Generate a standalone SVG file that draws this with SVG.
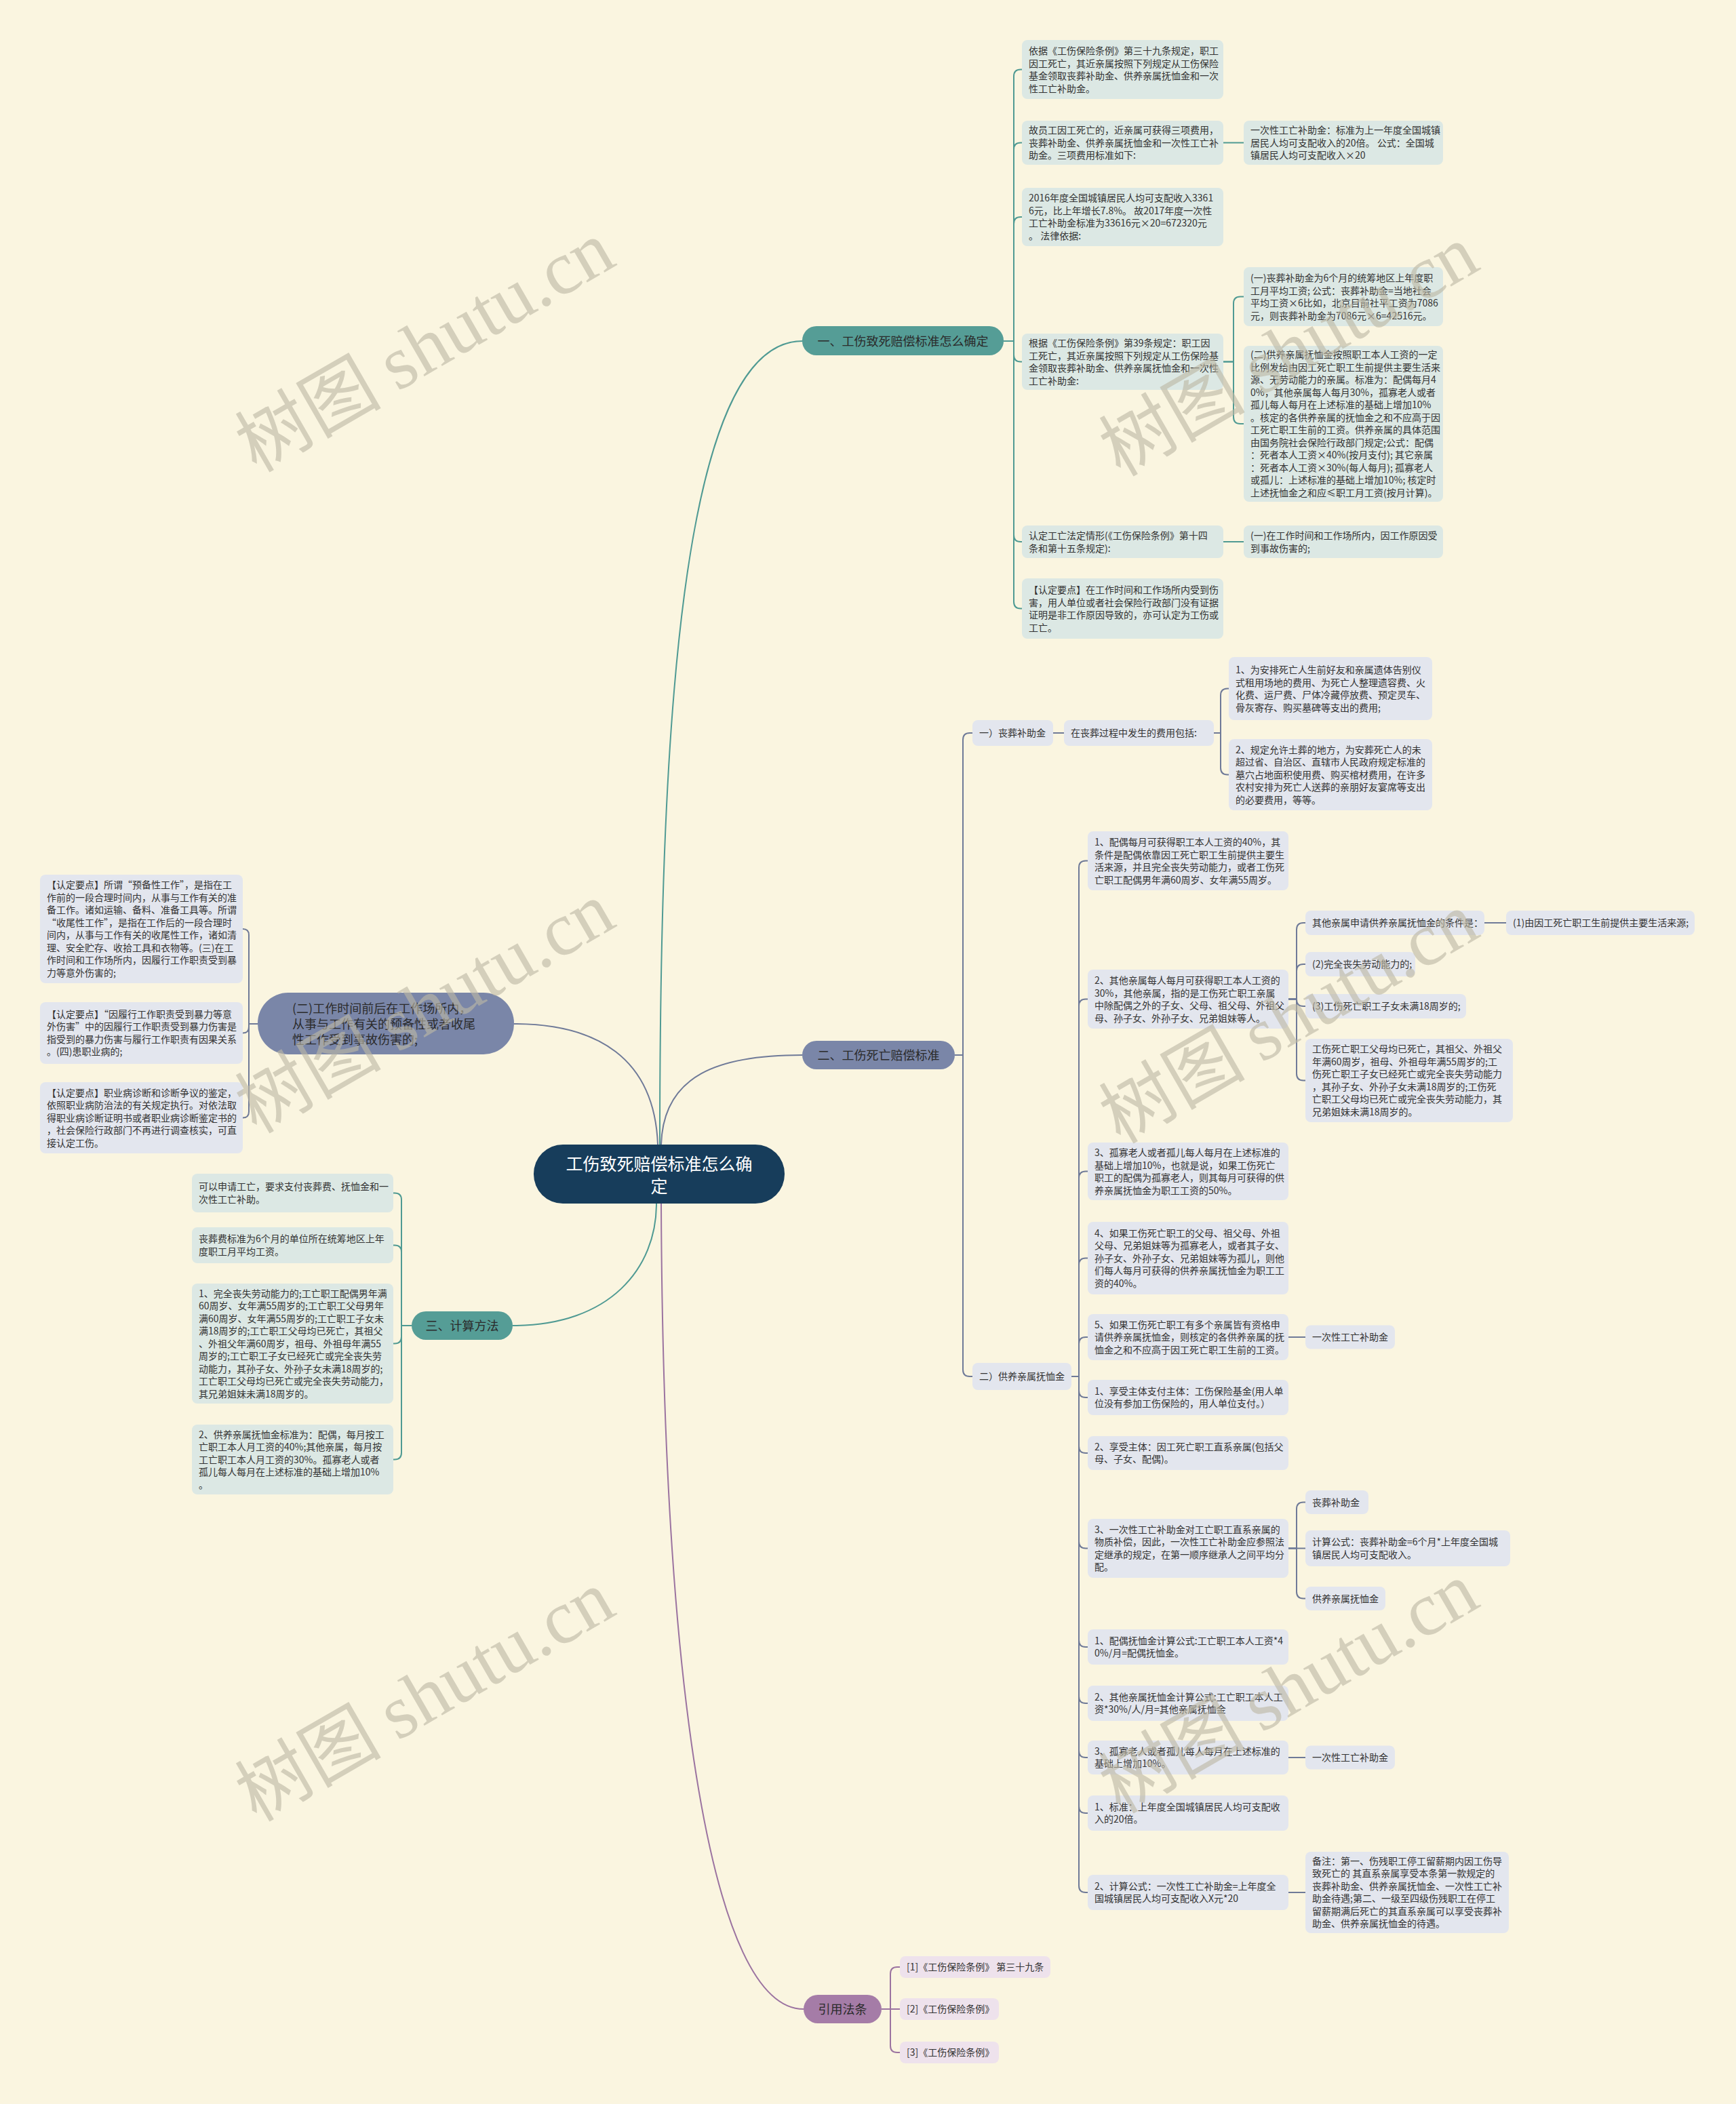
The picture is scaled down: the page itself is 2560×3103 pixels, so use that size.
<svg xmlns="http://www.w3.org/2000/svg" width="2560" height="3103" viewBox="0 0 2560 3103">
<style>
text{font-family:"Noto Sans CJK SC","Noto Sans",sans-serif;}
.t{font-size:14px;fill:#333;}
.bt{font-size:18px;fill:#2b2b2b;text-anchor:middle;}
.bl{font-size:18px;fill:#2b2b2b;}
.rt{font-size:25px;fill:#ffffff;text-anchor:middle;}
.cT rect{fill:#DCE8E4;}
.cS rect{fill:#E3E6EE;}
.cP rect{fill:#EEE2EC;}
.lt{fill:none;stroke:#4F9A93;stroke-width:2;}
.ls{fill:none;stroke:#6F7A98;stroke-width:2;}
.lp{fill:none;stroke:#9B73A0;stroke-width:2;}
.wm{font-family:"Noto Sans CJK SC",serif;font-size:108px;fill:#BDB8A5;opacity:0.62;}
.wm tspan.lat{font-family:"Liberation Serif","DejaVu Serif",serif;font-size:112px;}
</style>
<rect x="0" y="0" width="2560" height="3103" fill="#FAF5E0"/>

<g id="connectors">
<path class="lt" d="M973 1688 C973 1100 1000 503 1183 503" stroke-width="2.5"/>
<path class="ls" d="M975 1688 C978 1585 1060 1556 1183 1556" stroke-width="2.5"/>
<path class="ls" d="M970 1688 C965 1560 880 1510 758 1510" stroke-width="2.5"/>
<path class="lt" d="M968 1775 C968 1870 900 1955 756 1955" stroke-width="2.5"/>
<path class="lp" d="M975 1775 C978 2500 1050 2963 1185 2963" stroke-width="2.5"/>

<path class="lt" d="M1480 503 H1495 V112.5 Q1495 102.5 1505 102.5 H1507"/>
<path class="lt" d="M1480 503 H1495 V220.5 Q1495 210.5 1505 210.5 H1507"/>
<path class="lt" d="M1480 503 H1495 V330 Q1495 320 1505 320 H1507"/>
<path class="lt" d="M1480 503 H1495 V523.5 Q1495 533.5 1505 533.5 H1507"/>
<path class="lt" d="M1480 503 H1495 V789 Q1495 799 1505 799 H1507"/>
<path class="lt" d="M1480 503 H1495 V887.5 Q1495 897.5 1505 897.5 H1507"/>
<path class="lt" d="M1804 210.5 H1834"/>
<path class="lt" d="M1804 533.5 H1819 V447.5 Q1819 437.5 1829 437.5 H1834"/>
<path class="lt" d="M1804 533.5 H1819 V615 Q1819 625 1829 625 H1834"/>
<path class="lt" d="M1804 799 H1834"/>

<path class="ls" d="M380 1510 H367 V1379 Q367 1370 358 1370"/>
<path class="ls" d="M380 1510 H367 V1514.5 Q367 1523.5 358 1523.5"/>
<path class="ls" d="M380 1510 H367 V1639.5 Q367 1648.5 358 1648.5"/>

<path class="lt" d="M607 1955 H592 V1769.5 Q592 1759.5 582 1759.5 H580"/>
<path class="lt" d="M607 1955 H592 V1846.5 Q592 1836.5 582 1836.5 H580"/>
<path class="lt" d="M607 1955 H592 V1971.5 Q592 1981.5 582 1981.5 H580"/>
<path class="lt" d="M607 1955 H592 V2142.5 Q592 2152.5 582 2152.5 H580"/>

<path class="ls" d="M1408 1556 H1420 V1091 Q1420 1081 1430 1081 H1434"/>
<path class="ls" d="M1408 1556 H1420 V2020 Q1420 2030 1430 2030 H1434"/>
<path class="ls" d="M1553 1081 H1569"/>
<path class="ls" d="M1790 1081 H1800 V1025.5 Q1800 1015.5 1810 1015.5 H1812"/>
<path class="ls" d="M1790 1081 H1800 V1132.5 Q1800 1142.5 1810 1142.5 H1812"/>

<path class="ls" d="M1580 2030 H1591 V1279.5 Q1591 1269.5 1601 1269.5 H1604"/>
<path class="ls" d="M1580 2030 H1591 V1483.5 Q1591 1473.5 1601 1473.5 H1604"/>
<path class="ls" d="M1580 2030 H1591 V1737.5 Q1591 1727.5 1601 1727.5 H1604"/>
<path class="ls" d="M1580 2030 H1591 V1865.5 Q1591 1855.5 1601 1855.5 H1604"/>
<path class="ls" d="M1580 2030 H1591 V1982 Q1591 1972 1601 1972 H1604"/>
<path class="ls" d="M1580 2030 H1591 V2051 Q1591 2061 1601 2061 H1604"/>
<path class="ls" d="M1580 2030 H1591 V2133 Q1591 2143 1601 2143 H1604"/>
<path class="ls" d="M1580 2030 H1591 V2273.5 Q1591 2283.5 1601 2283.5 H1604"/>
<path class="ls" d="M1580 2030 H1591 V2419 Q1591 2429 1601 2429 H1604"/>
<path class="ls" d="M1580 2030 H1591 V2502 Q1591 2512 1601 2512 H1604"/>
<path class="ls" d="M1580 2030 H1591 V2582 Q1591 2592 1601 2592 H1604"/>
<path class="ls" d="M1580 2030 H1591 V2664 Q1591 2674 1601 2674 H1604"/>
<path class="ls" d="M1580 2030 H1591 V2781 Q1591 2791 1601 2791 H1604"/>

<path class="ls" d="M1900 1473.5 H1912 V1371 Q1912 1361 1922 1361 H1925"/>
<path class="ls" d="M1900 1473.5 H1912 V1432 Q1912 1422 1922 1422 H1925"/>
<path class="ls" d="M1900 1473.5 H1912 V1474 Q1912 1484 1922 1484 H1925"/>
<path class="ls" d="M1900 1473.5 H1912 V1583.5 Q1912 1593.5 1922 1593.5 H1925"/>
<path class="ls" d="M2189 1361 H2221"/>
<path class="ls" d="M1900 1972 H1925"/>
<path class="ls" d="M1900 2283.5 H1912 V2225.5 Q1912 2215.5 1922 2215.5 H1925"/>
<path class="ls" d="M1900 2283.5 H1925"/>
<path class="ls" d="M1900 2283.5 H1912 V2347.5 Q1912 2357.5 1922 2357.5 H1925"/>
<path class="ls" d="M1900 2592 H1925"/>
<path class="ls" d="M1900 2791 H1925"/>

<path class="lp" d="M1300 2963 H1313 V2911 Q1313 2901 1323 2901 H1327"/>
<path class="lp" d="M1300 2963 H1327"/>
<path class="lp" d="M1300 2963 H1313 V3017 Q1313 3027 1323 3027 H1327"/>
</g>

<g id="root">
<rect x="787" y="1688" width="370" height="87" rx="43" fill="#173D5B"/>
<text class="rt" x="972" y="1726">工伤致死赔偿标准怎么确</text>
<text class="rt" x="972" y="1759">定</text>
</g>

<g id="branch1">
<rect x="1183" y="481" width="297" height="43" rx="21" fill="#559D96"/>
<text class="bt" x="1331.5" y="509.5">一、工伤致死赔偿标准怎么确定</text>
</g>
<g id="branch2">
<rect x="1183" y="1535" width="225" height="42" rx="21" fill="#7A86A8"/>
<text class="bt" x="1295.5" y="1562.5">二、工伤死亡赔偿标准</text>
</g>
<g id="branch3">
<rect x="607" y="1934" width="149" height="42" rx="21" fill="#559D96"/>
<text class="bt" x="681.5" y="1961.5">三、计算方法</text>
</g>
<g id="branch4">
<rect x="380" y="1464" width="378" height="91" rx="45" fill="#7A86A8"/>
<text class="bl" x="431" y="1493.5"><tspan x="431">(二)工作时间前后在工作场所内，</tspan><tspan x="431" dy="23">从事与工作有关的预备性或者收尾</tspan><tspan x="431" dy="23">性工作受到事故伤害的;</tspan></text>
</g>
<g id="branch5">
<rect x="1185" y="2942" width="115" height="42" rx="21" fill="#A57CA7"/>
<text class="bt" x="1242.5" y="2969.5">引用法条</text>
</g>

<g id="n1-1" class="cT"><rect x="1507" y="59" width="297" height="87" rx="8"/>
<text class="t" x="1517" y="80"><tspan x="1517">依据《工伤保险条例》第三十九条规定，职工</tspan><tspan x="1517" dy="18.5">因工死亡，其近亲属按照下列规定从工伤保险</tspan><tspan x="1517" dy="18.5">基金领取丧葬补助金、供养亲属抚恤金和一次</tspan><tspan x="1517" dy="18.5">性工亡补助金。</tspan></text></g>
<g id="n1-2" class="cT"><rect x="1507" y="178" width="297" height="65" rx="8"/>
<text class="t" x="1517" y="197"><tspan x="1517">故员工因工死亡的，近亲属可获得三项费用，</tspan><tspan x="1517" dy="18.5">丧葬补助金、供养亲属抚恤金和一次性工亡补</tspan><tspan x="1517" dy="18.5">助金。三项费用标准如下:</tspan></text></g>
<g id="n1-2-1" class="cT"><rect x="1834" y="178" width="294" height="65" rx="8"/>
<text class="t" x="1844" y="197"><tspan x="1844">一次性工亡补助金：标准为上一年度全国城镇</tspan><tspan x="1844" dy="18.5">居民人均可支配收入的20倍。 公式：全国城</tspan><tspan x="1844" dy="18.5">镇居民人均可支配收入×20</tspan></text></g>
<g id="n1-3" class="cT"><rect x="1507" y="277" width="297" height="86" rx="8"/>
<text class="t" x="1517" y="297"><tspan x="1517">2016年度全国城镇居民人均可支配收入3361</tspan><tspan x="1517" dy="18.5">6元，比上年增长7.8%。 故2017年度一次性</tspan><tspan x="1517" dy="18.5">工亡补助金标准为33616元×20=672320元</tspan><tspan x="1517" dy="18.5">。 法律依据:</tspan></text></g>
<g id="n1-4" class="cT"><rect x="1507" y="492" width="297" height="83" rx="8"/>
<text class="t" x="1517" y="511"><tspan x="1517">根据《工伤保险条例》第39条规定：职工因</tspan><tspan x="1517" dy="18.5">工死亡，其近亲属按照下列规定从工伤保险基</tspan><tspan x="1517" dy="18.5">金领取丧葬补助金、供养亲属抚恤金和一次性</tspan><tspan x="1517" dy="18.5">工亡补助金:</tspan></text></g>
<g id="n1-4-1" class="cT"><rect x="1834" y="394" width="294" height="87" rx="8"/>
<text class="t" x="1844" y="415"><tspan x="1844">(一)丧葬补助金为6个月的统筹地区上年度职</tspan><tspan x="1844" dy="18.5">工月平均工资; 公式：丧葬补助金=当地社会</tspan><tspan x="1844" dy="18.5">平均工资×6比如，北京目前社平工资为7086</tspan><tspan x="1844" dy="18.5">元，则丧葬补助金为7086元×6=42516元。</tspan></text></g>
<g id="n1-4-2" class="cT"><rect x="1834" y="510" width="294" height="230" rx="8"/>
<text class="t" x="1844" y="528"><tspan x="1844">(二)供养亲属抚恤金按照职工本人工资的一定</tspan><tspan x="1844" dy="18.5">比例发给由因工死亡职工生前提供主要生活来</tspan><tspan x="1844" dy="18.5">源、无劳动能力的亲属。标准为：配偶每月4</tspan><tspan x="1844" dy="18.5">0%，其他亲属每人每月30%，孤寡老人或者</tspan><tspan x="1844" dy="18.5">孤儿每人每月在上述标准的基础上增加10%</tspan><tspan x="1844" dy="18.5">。核定的各供养亲属的抚恤金之和不应高于因</tspan><tspan x="1844" dy="18.5">工死亡职工生前的工资。供养亲属的具体范围</tspan><tspan x="1844" dy="18.5">由国务院社会保险行政部门规定;公式：配偶</tspan><tspan x="1844" dy="18.5">：死者本人工资×40%(按月支付); 其它亲属</tspan><tspan x="1844" dy="18.5">：死者本人工资×30%(每人每月); 孤寡老人</tspan><tspan x="1844" dy="18.5">或孤儿：上述标准的基础上增加10%; 核定时</tspan><tspan x="1844" dy="18.5">上述抚恤金之和应≤职工月工资(按月计算)。</tspan></text></g>
<g id="n1-5" class="cT"><rect x="1507" y="775" width="297" height="48" rx="8"/>
<text class="t" x="1517" y="795"><tspan x="1517">认定工亡法定情形(《工伤保险条例》第十四</tspan><tspan x="1517" dy="18.5">条和第十五条规定):</tspan></text></g>
<g id="n1-5-1" class="cT"><rect x="1834" y="775" width="294" height="48" rx="8"/>
<text class="t" x="1844" y="795"><tspan x="1844">(一)在工作时间和工作场所内，因工作原因受</tspan><tspan x="1844" dy="18.5">到事故伤害的;</tspan></text></g>
<g id="n1-6" class="cT"><rect x="1507" y="853" width="297" height="89" rx="8"/>
<text class="t" x="1517" y="875"><tspan x="1517">【认定要点】在工作时间和工作场所内受到伤</tspan><tspan x="1517" dy="18.5">害，用人单位或者社会保险行政部门没有证据</tspan><tspan x="1517" dy="18.5">证明是非工作原因导致的，亦可认定为工伤或</tspan><tspan x="1517" dy="18.5">工亡。</tspan></text></g>

<g id="n2-1" class="cS"><rect x="1434" y="1062" width="119" height="38" rx="8"/>
<text class="t" x="1444" y="1086">一）丧葬补助金</text></g>
<g id="n2-1-1" class="cS"><rect x="1569" y="1062" width="221" height="38" rx="8"/>
<text class="t" x="1579" y="1086">在丧葬过程中发生的费用包括:</text></g>
<g id="n2-1-1-1" class="cS"><rect x="1812" y="969" width="300" height="93" rx="8"/>
<text class="t" x="1822" y="993"><tspan x="1822">1、为安排死亡人生前好友和亲属遗体告别仪</tspan><tspan x="1822" dy="18.5">式租用场地的费用、为死亡人整理遗容费、火</tspan><tspan x="1822" dy="18.5">化费、运尸费、尸体冷藏停放费、预定灵车、</tspan><tspan x="1822" dy="18.5">骨灰寄存、购买墓碑等支出的费用;</tspan></text></g>
<g id="n2-1-1-2" class="cS"><rect x="1812" y="1090" width="300" height="105" rx="8"/>
<text class="t" x="1822" y="1110.5"><tspan x="1822">2、规定允许土葬的地方，为安葬死亡人的未</tspan><tspan x="1822" dy="18.5">超过省、自治区、直辖市人民政府规定标准的</tspan><tspan x="1822" dy="18.5">墓穴占地面积使用费、购买棺材费用，在许多</tspan><tspan x="1822" dy="18.5">农村安排为死亡人送葬的亲朋好友宴席等支出</tspan><tspan x="1822" dy="18.5">的必要费用，等等。</tspan></text></g>
<g id="n2-2" class="cS"><rect x="1434" y="2010" width="146" height="40" rx="8"/>
<text class="t" x="1444" y="2035">二）供养亲属抚恤金</text></g>

<g id="d1" class="cS"><rect x="1604" y="1226" width="296" height="87" rx="8"/>
<text class="t" x="1614" y="1247"><tspan x="1614">1、配偶每月可获得职工本人工资的40%，其</tspan><tspan x="1614" dy="18.5">条件是配偶依靠因工死亡职工生前提供主要生</tspan><tspan x="1614" dy="18.5">活来源，并且完全丧失劳动能力，或者工伤死</tspan><tspan x="1614" dy="18.5">亡职工配偶男年满60周岁、女年满55周岁。</tspan></text></g>
<g id="d2" class="cS"><rect x="1604" y="1430" width="296" height="87" rx="8"/>
<text class="t" x="1614" y="1451"><tspan x="1614">2、其他亲属每人每月可获得职工本人工资的</tspan><tspan x="1614" dy="18.5">30%，其他亲属，指的是工伤死亡职工亲属</tspan><tspan x="1614" dy="18.5">中除配偶之外的子女、父母、祖父母、外祖父</tspan><tspan x="1614" dy="18.5">母、孙子女、外孙子女、兄弟姐妹等人。</tspan></text></g>
<g id="d2a" class="cS"><rect x="1925" y="1343" width="264" height="36" rx="8"/>
<text class="t" x="1935" y="1366">其他亲属申请供养亲属抚恤金的条件是：</text></g>
<g id="d2a1" class="cS"><rect x="2221" y="1343" width="278" height="36" rx="8"/>
<text class="t" x="2231" y="1366">(1)由因工死亡职工生前提供主要生活来源;</text></g>
<g id="d2b" class="cS"><rect x="1925" y="1404" width="162" height="36" rx="8"/>
<text class="t" x="1935" y="1427">(2)完全丧失劳动能力的;</text></g>
<g id="d2c" class="cS"><rect x="1925" y="1466" width="237" height="36" rx="8"/>
<text class="t" x="1935" y="1489">(3)工伤死亡职工子女未满18周岁的;</text></g>
<g id="d2d" class="cS"><rect x="1925" y="1532" width="306" height="123" rx="8"/>
<text class="t" x="1935" y="1552"><tspan x="1935">工伤死亡职工父母均已死亡，其祖父、外祖父</tspan><tspan x="1935" dy="18.5">年满60周岁，祖母、外祖母年满55周岁的;工</tspan><tspan x="1935" dy="18.5">伤死亡职工子女已经死亡或完全丧失劳动能力</tspan><tspan x="1935" dy="18.5">，其孙子女、外孙子女未满18周岁的;工伤死</tspan><tspan x="1935" dy="18.5">亡职工父母均已死亡或完全丧失劳动能力，其</tspan><tspan x="1935" dy="18.5">兄弟姐妹未满18周岁的。</tspan></text></g>
<g id="d3" class="cS"><rect x="1604" y="1685" width="296" height="85" rx="8"/>
<text class="t" x="1614" y="1705"><tspan x="1614">3、孤寡老人或者孤儿每人每月在上述标准的</tspan><tspan x="1614" dy="18.5">基础上增加10%，也就是说，如果工伤死亡</tspan><tspan x="1614" dy="18.5">职工的配偶为孤寡老人，则其每月可获得的供</tspan><tspan x="1614" dy="18.5">养亲属抚恤金为职工工资的50%。</tspan></text></g>
<g id="d4" class="cS"><rect x="1604" y="1802" width="296" height="107" rx="8"/>
<text class="t" x="1614" y="1823.5"><tspan x="1614">4、如果工伤死亡职工的父母、祖父母、外祖</tspan><tspan x="1614" dy="18.5">父母、兄弟姐妹等为孤寡老人，或者其子女、</tspan><tspan x="1614" dy="18.5">孙子女、外孙子女、兄弟姐妹等为孤儿，则他</tspan><tspan x="1614" dy="18.5">们每人每月可获得的供养亲属抚恤金为职工工</tspan><tspan x="1614" dy="18.5">资的40%。</tspan></text></g>
<g id="d5" class="cS"><rect x="1604" y="1938" width="296" height="68" rx="8"/>
<text class="t" x="1614" y="1958.5"><tspan x="1614">5、如果工伤死亡职工有多个亲属皆有资格申</tspan><tspan x="1614" dy="18.5">请供养亲属抚恤金，则核定的各供养亲属的抚</tspan><tspan x="1614" dy="18.5">恤金之和不应高于因工死亡职工生前的工资。</tspan></text></g>
<g id="d5a" class="cS"><rect x="1925" y="1954.5" width="132" height="35" rx="8"/>
<text class="t" x="1935" y="1977">一次性工亡补助金</text></g>
<g id="d6" class="cS"><rect x="1604" y="2035" width="296" height="52" rx="8"/>
<text class="t" x="1614" y="2056.75"><tspan x="1614">1、享受主体支付主体：工伤保险基金(用人单</tspan><tspan x="1614" dy="18.5">位没有参加工伤保险的，用人单位支付。）</tspan></text></g>
<g id="d7" class="cS"><rect x="1604" y="2118" width="296" height="50" rx="8"/>
<text class="t" x="1614" y="2138.75"><tspan x="1614">2、享受主体：因工死亡职工直系亲属(包括父</tspan><tspan x="1614" dy="18.5">母、子女、配偶)。</tspan></text></g>
<g id="d8" class="cS"><rect x="1604" y="2240" width="296" height="87" rx="8"/>
<text class="t" x="1614" y="2260.75"><tspan x="1614">3、一次性工亡补助金对工亡职工直系亲属的</tspan><tspan x="1614" dy="18.5">物质补偿，因此，一次性工亡补助金应参照法</tspan><tspan x="1614" dy="18.5">定继承的规定，在第一顺序继承人之间平均分</tspan><tspan x="1614" dy="18.5">配。</tspan></text></g>
<g id="d8a" class="cS"><rect x="1925" y="2198" width="93" height="35" rx="8"/>
<text class="t" x="1935" y="2220.5">丧葬补助金</text></g>
<g id="d8b" class="cS"><rect x="1925" y="2257" width="302" height="53" rx="8"/>
<text class="t" x="1935" y="2279.25"><tspan x="1935">计算公式：丧葬补助金=6个月*上年度全国城</tspan><tspan x="1935" dy="18.5">镇居民人均可支配收入。</tspan></text></g>
<g id="d8c" class="cS"><rect x="1925" y="2340" width="118" height="35" rx="8"/>
<text class="t" x="1935" y="2362.5">供养亲属抚恤金</text></g>
<g id="d9" class="cS"><rect x="1604" y="2403" width="296" height="52" rx="8"/>
<text class="t" x="1614" y="2424.75"><tspan x="1614">1、配偶抚恤金计算公式:工亡职工本人工资*4</tspan><tspan x="1614" dy="18.5">0%/月=配偶抚恤金。</tspan></text></g>
<g id="d10" class="cS"><rect x="1604" y="2486" width="296" height="52" rx="8"/>
<text class="t" x="1614" y="2507.75"><tspan x="1614">2、其他亲属抚恤金计算公式:工亡职工本人工</tspan><tspan x="1614" dy="18.5">资*30%/人/月=其他亲属抚恤金</tspan></text></g>
<g id="d11" class="cS"><rect x="1604" y="2567" width="296" height="50" rx="8"/>
<text class="t" x="1614" y="2587.75"><tspan x="1614">3、孤寡老人或者孤儿每人每月在上述标准的</tspan><tspan x="1614" dy="18.5">基础上增加10%。</tspan></text></g>
<g id="d11a" class="cS"><rect x="1925" y="2574.5" width="132" height="35" rx="8"/>
<text class="t" x="1935" y="2597">一次性工亡补助金</text></g>
<g id="d12" class="cS"><rect x="1604" y="2648" width="296" height="52" rx="8"/>
<text class="t" x="1614" y="2669.75"><tspan x="1614">1、标准：上年度全国城镇居民人均可支配收</tspan><tspan x="1614" dy="18.5">入的20倍。</tspan></text></g>
<g id="d13" class="cS"><rect x="1604" y="2765" width="296" height="52" rx="8"/>
<text class="t" x="1614" y="2786.75"><tspan x="1614">2、计算公式：一次性工亡补助金=上年度全</tspan><tspan x="1614" dy="18.5">国城镇居民人均可支配收入X元*20</tspan></text></g>
<g id="d13a" class="cS"><rect x="1925" y="2731" width="300" height="120" rx="8"/>
<text class="t" x="1935" y="2749.75"><tspan x="1935">备注：第一、伤残职工停工留薪期内因工伤导</tspan><tspan x="1935" dy="18.5">致死亡的 其直系亲属享受本条第一款规定的</tspan><tspan x="1935" dy="18.5">丧葬补助金、供养亲属抚恤金、一次性工亡补</tspan><tspan x="1935" dy="18.5">助金待遇;第二、一级至四级伤残职工在停工</tspan><tspan x="1935" dy="18.5">留薪期满后死亡的其直系亲属可以享受丧葬补</tspan><tspan x="1935" dy="18.5">助金、供养亲属抚恤金的待遇。</tspan></text></g>

<g id="L1" class="cS"><rect x="59" y="1290" width="299" height="160" rx="8"/>
<text class="t" x="69" y="1310.25"><tspan x="69">【认定要点】所谓“预备性工作”，是指在工</tspan><tspan x="69" dy="18.5">作前的一段合理时间内，从事与工作有关的准</tspan><tspan x="69" dy="18.5">备工作。诸如运输、备料、准备工具等。所谓</tspan><tspan x="69" dy="18.5">“收尾性工作”，是指在工作后的一段合理时</tspan><tspan x="69" dy="18.5">间内，从事与工作有关的收尾性工作，诸如清</tspan><tspan x="69" dy="18.5">理、安全贮存、收拾工具和衣物等。(三)在工</tspan><tspan x="69" dy="18.5">作时间和工作场所内，因履行工作职责受到暴</tspan><tspan x="69" dy="18.5">力等意外伤害的;</tspan></text></g>
<g id="L2" class="cS"><rect x="59" y="1478" width="299" height="91" rx="8"/>
<text class="t" x="69" y="1500.75"><tspan x="69">【认定要点】“因履行工作职责受到暴力等意</tspan><tspan x="69" dy="18.5">外伤害”中的因履行工作职责受到暴力伤害是</tspan><tspan x="69" dy="18.5">指受到的暴力伤害与履行工作职责有因果关系</tspan><tspan x="69" dy="18.5">。(四)患职业病的;</tspan></text></g>
<g id="L3" class="cS"><rect x="59" y="1596" width="299" height="105" rx="8"/>
<text class="t" x="69" y="1616.5"><tspan x="69">【认定要点】职业病诊断和诊断争议的鉴定，</tspan><tspan x="69" dy="18.5">依照职业病防治法的有关规定执行。对依法取</tspan><tspan x="69" dy="18.5">得职业病诊断证明书或者职业病诊断鉴定书的</tspan><tspan x="69" dy="18.5">，社会保险行政部门不再进行调查核实，可直</tspan><tspan x="69" dy="18.5">接认定工伤。</tspan></text></g>

<g id="M1" class="cT"><rect x="283" y="1731" width="297" height="57" rx="8"/>
<text class="t" x="293" y="1755.25"><tspan x="293">可以申请工亡，要求支付丧葬费、抚恤金和一</tspan><tspan x="293" dy="18.5">次性工亡补助。</tspan></text></g>
<g id="M2" class="cT"><rect x="283" y="1810" width="297" height="53" rx="8"/>
<text class="t" x="293" y="1832.25"><tspan x="293">丧葬费标准为6个月的单位所在统筹地区上年</tspan><tspan x="293" dy="18.5">度职工月平均工资。</tspan></text></g>
<g id="M3" class="cT"><rect x="283" y="1893" width="297" height="177" rx="8"/>
<text class="t" x="293" y="1912.5"><tspan x="293">1、完全丧失劳动能力的;工亡职工配偶男年满</tspan><tspan x="293" dy="18.5">60周岁、女年满55周岁的;工亡职工父母男年</tspan><tspan x="293" dy="18.5">满60周岁、女年满55周岁的;工亡职工子女未</tspan><tspan x="293" dy="18.5">满18周岁的;工亡职工父母均已死亡，其祖父</tspan><tspan x="293" dy="18.5">、外祖父年满60周岁，祖母、外祖母年满55</tspan><tspan x="293" dy="18.5">周岁的;工亡职工子女已经死亡或完全丧失劳</tspan><tspan x="293" dy="18.5">动能力，其孙子女、外孙子女未满18周岁的;</tspan><tspan x="293" dy="18.5">工亡职工父母均已死亡或完全丧失劳动能力，</tspan><tspan x="293" dy="18.5">其兄弟姐妹未满18周岁的。</tspan></text></g>
<g id="M4" class="cT"><rect x="283" y="2101" width="297" height="103" rx="8"/>
<text class="t" x="293" y="2120.5"><tspan x="293">2、供养亲属抚恤金标准为：配偶，每月按工</tspan><tspan x="293" dy="18.5">亡职工本人月工资的40%;其他亲属，每月按</tspan><tspan x="293" dy="18.5">工亡职工本人月工资的30%。孤寡老人或者</tspan><tspan x="293" dy="18.5">孤儿每人每月在上述标准的基础上增加10%</tspan><tspan x="293" dy="18.5">。</tspan></text></g>

<g id="P1" class="cP"><rect x="1327" y="2885" width="222" height="32" rx="8"/>
<text class="t" x="1337" y="2906">[1]《工伤保险条例》 第三十九条</text></g>
<g id="P2" class="cP"><rect x="1327" y="2947" width="146" height="32" rx="8"/>
<text class="t" x="1337" y="2968">[2]《工伤保险条例》</text></g>
<g id="P3" class="cP"><rect x="1327" y="3011" width="146" height="32" rx="8"/>
<text class="t" x="1337" y="3032">[3]《工伤保险条例》</text></g>

<g id="watermarks" pointer-events="none">
<text class="wm" transform="translate(378 698) rotate(-30)">树图 <tspan class="lat">shutu.cn</tspan></text>
<text class="wm" transform="translate(1652 704) rotate(-30)">树图 <tspan class="lat">shutu.cn</tspan></text>
<text class="wm" transform="translate(378 1673) rotate(-30)">树图 <tspan class="lat">shutu.cn</tspan></text>
<text class="wm" transform="translate(1652 1688) rotate(-30)">树图 <tspan class="lat">shutu.cn</tspan></text>
<text class="wm" transform="translate(378 2688) rotate(-30)">树图 <tspan class="lat">shutu.cn</tspan></text>
<text class="wm" transform="translate(1652 2676) rotate(-30)">树图 <tspan class="lat">shutu.cn</tspan></text>
</g>
</svg>
